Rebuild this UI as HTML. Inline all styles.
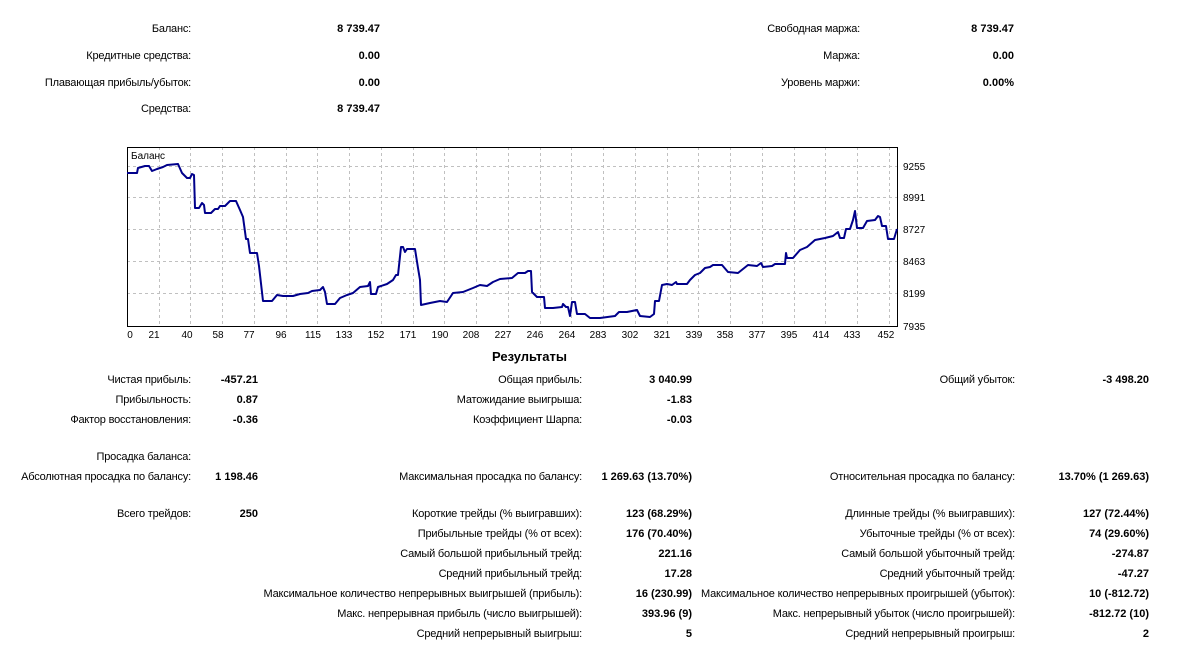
<!DOCTYPE html>
<html><head><meta charset="utf-8"><style>
body{margin:0;width:1194px;height:652px;background:#fff;position:relative;overflow:hidden;font-family:"Liberation Sans","DejaVu Sans",sans-serif;font-size:11px;color:#000}
.t{position:absolute;line-height:14px;white-space:nowrap;text-align:right;letter-spacing:-0.2px}
.b{font-weight:bold;letter-spacing:0}
svg{position:absolute;left:0;top:0}
</style></head><body>
<svg width="1194" height="652" xmlns="http://www.w3.org/2000/svg">
<g stroke="#c0c0c0" stroke-dasharray="3,3" stroke-width="1">
<line x1="127" y1="166.5" x2="897" y2="166.5"/><line x1="127" y1="197.5" x2="897" y2="197.5"/><line x1="127" y1="229.5" x2="897" y2="229.5"/><line x1="127" y1="261.5" x2="897" y2="261.5"/><line x1="127" y1="293.5" x2="897" y2="293.5"/>
<line x1="159.5" y1="147" x2="159.5" y2="326"/><line x1="190.5" y1="147" x2="190.5" y2="326"/><line x1="222.5" y1="147" x2="222.5" y2="326"/><line x1="254.5" y1="147" x2="254.5" y2="326"/><line x1="286.5" y1="147" x2="286.5" y2="326"/><line x1="317.5" y1="147" x2="317.5" y2="326"/><line x1="349.5" y1="147" x2="349.5" y2="326"/><line x1="381.5" y1="147" x2="381.5" y2="326"/><line x1="413.5" y1="147" x2="413.5" y2="326"/><line x1="444.5" y1="147" x2="444.5" y2="326"/><line x1="476.5" y1="147" x2="476.5" y2="326"/><line x1="508.5" y1="147" x2="508.5" y2="326"/><line x1="540.5" y1="147" x2="540.5" y2="326"/><line x1="571.5" y1="147" x2="571.5" y2="326"/><line x1="603.5" y1="147" x2="603.5" y2="326"/><line x1="635.5" y1="147" x2="635.5" y2="326"/><line x1="667.5" y1="147" x2="667.5" y2="326"/><line x1="698.5" y1="147" x2="698.5" y2="326"/><line x1="730.5" y1="147" x2="730.5" y2="326"/><line x1="762.5" y1="147" x2="762.5" y2="326"/><line x1="794.5" y1="147" x2="794.5" y2="326"/><line x1="825.5" y1="147" x2="825.5" y2="326"/><line x1="857.5" y1="147" x2="857.5" y2="326"/><line x1="889.5" y1="147" x2="889.5" y2="326"/>
</g>
<rect x="127.5" y="147.5" width="770" height="179" fill="none" stroke="#000" stroke-width="1"/>
<polyline fill="none" stroke="#00008b" stroke-width="2" stroke-linejoin="round" points="127,173 137,173 138,168 145,166 149,166 152,171 157,169 163,167 167,165 178,164 182,173 187,178 190,178 192,174 194,175 195,208 199,208 202,203 204,205 205,213 211,213 215,209 218,209 220,206 225,206 230,201 236,201 240,210 243,217 246,239 248,239 250,253 257,253 259,266 263,301 272,301 277,295 283,296 293,296 300,294 308,293 312,291 320,290 323,287 325,292 327,304 335,304 340,298 347,295 353,293 360,287 368,286 370,282 371,294 376,294 378,287 387,284 393,280 396,275 398,275 401,247 403,247 405,252 407,249 415,249 418,268 420,280 421,305 430,303 440,301 447,302 453,293 463,292 473,288 480,285 487,286 493,282 500,279 512,278 518,273 525,273 528,271 531,271 532,292 537,297 544,297 545,308 553,308 562,307 563,304 566,307 568,307 570,316 572,302 575,302 577,314 585,314 590,318 600,318 615,316 619,312 627,312 637,310 640,316 650,317 654,314 655,301 659,301 662,285 667,284 672,285 676,282 677,284 687,284 690,280 695,275 700,273 705,268 710,267 713,265 722,265 728,272 738,273 748,265 757,266 761,263 763,267 772,266 775,264 785,264 786,253 787,258 793,258 800,250 807,247 815,240 825,238 833,236 838,232 840,238 844,238 846,229 850,229 853,220 855,211 857,228 863,228 867,221 875,220 878,216 880,217 882,226 886,226 888,239 894,239 897,229"/>
<g font-family="Liberation Sans, sans-serif" font-size="10" fill="#000">
<text x="131" y="159">Баланс</text>
<text x="903" y="170">9255</text><text x="903" y="201">8991</text><text x="903" y="233">8727</text><text x="903" y="265">8463</text><text x="903" y="297">8199</text><text x="903" y="330">7935</text>
<g text-anchor="middle">
<text x="130" y="338">0</text><text x="154" y="338">21</text><text x="187" y="338">40</text><text x="218" y="338">58</text><text x="249" y="338">77</text><text x="281" y="338">96</text><text x="313" y="338">115</text><text x="344" y="338">133</text><text x="376" y="338">152</text><text x="408" y="338">171</text><text x="440" y="338">190</text><text x="471" y="338">208</text><text x="503" y="338">227</text><text x="535" y="338">246</text><text x="567" y="338">264</text><text x="598" y="338">283</text><text x="630" y="338">302</text><text x="662" y="338">321</text><text x="694" y="338">339</text><text x="725" y="338">358</text><text x="757" y="338">377</text><text x="789" y="338">395</text><text x="821" y="338">414</text><text x="852" y="338">433</text><text x="886" y="338">452</text>
</g></g>
</svg>

<div class="t" style="right:1003px;top:22px">Баланс:</div><div class="t b" style="right:814px;top:22px">8 739.47</div>
<div class="t" style="right:1003px;top:49px">Кредитные средства:</div><div class="t b" style="right:814px;top:49px">0.00</div>
<div class="t" style="right:1003px;top:76px">Плавающая прибыль/убыток:</div><div class="t b" style="right:814px;top:76px">0.00</div>
<div class="t" style="right:1003px;top:102px">Средства:</div><div class="t b" style="right:814px;top:102px">8 739.47</div>
<div class="t" style="right:334px;top:22px">Свободная маржа:</div><div class="t b" style="right:180px;top:22px">8 739.47</div>
<div class="t" style="right:334px;top:49px">Маржа:</div><div class="t b" style="right:180px;top:49px">0.00</div>
<div class="t" style="right:334px;top:76px">Уровень маржи:</div><div class="t b" style="right:180px;top:76px">0.00%</div>

<div class="t b" style="left:492px;top:350px;font-size:13px;text-align:left">Результаты</div>

<div class="t" style="right:1003px;top:373px">Чистая прибыль:</div><div class="t b" style="right:936px;top:373px">-457.21</div>
<div class="t" style="right:1003px;top:393px">Прибыльность:</div><div class="t b" style="right:936px;top:393px">0.87</div>
<div class="t" style="right:1003px;top:413px">Фактор восстановления:</div><div class="t b" style="right:936px;top:413px">-0.36</div>
<div class="t" style="right:1003px;top:450px">Просадка баланса:</div>
<div class="t" style="right:1003px;top:470px">Абсолютная просадка по балансу:</div><div class="t b" style="right:936px;top:470px">1 198.46</div>
<div class="t" style="right:1003px;top:507px">Всего трейдов:</div><div class="t b" style="right:936px;top:507px">250</div>

<div class="t" style="right:612px;top:373px">Общая прибыль:</div><div class="t b" style="right:502px;top:373px">3 040.99</div>
<div class="t" style="right:612px;top:393px">Матожидание выигрыша:</div><div class="t b" style="right:502px;top:393px">-1.83</div>
<div class="t" style="right:612px;top:413px">Коэффициент Шарпа:</div><div class="t b" style="right:502px;top:413px">-0.03</div>
<div class="t" style="right:612px;top:470px">Максимальная просадка по балансу:</div><div class="t b" style="right:502px;top:470px">1 269.63 (13.70%)</div>
<div class="t" style="right:612px;top:507px">Короткие трейды (% выигравших):</div><div class="t b" style="right:502px;top:507px">123 (68.29%)</div>
<div class="t" style="right:612px;top:527px">Прибыльные трейды (% от всех):</div><div class="t b" style="right:502px;top:527px">176 (70.40%)</div>
<div class="t" style="right:612px;top:547px">Самый большой прибыльный трейд:</div><div class="t b" style="right:502px;top:547px">221.16</div>
<div class="t" style="right:612px;top:567px">Средний прибыльный трейд:</div><div class="t b" style="right:502px;top:567px">17.28</div>
<div class="t" style="right:612px;top:587px">Максимальное количество непрерывных выигрышей (прибыль):</div><div class="t b" style="right:502px;top:587px">16 (230.99)</div>
<div class="t" style="right:612px;top:607px">Макс. непрерывная прибыль (число выигрышей):</div><div class="t b" style="right:502px;top:607px">393.96 (9)</div>
<div class="t" style="right:612px;top:627px">Средний непрерывный выигрыш:</div><div class="t b" style="right:502px;top:627px">5</div>

<div class="t" style="right:179px;top:373px">Общий убыток:</div><div class="t b" style="right:45px;top:373px">-3 498.20</div>
<div class="t" style="right:179px;top:470px">Относительная просадка по балансу:</div><div class="t b" style="right:45px;top:470px">13.70% (1 269.63)</div>
<div class="t" style="right:179px;top:507px">Длинные трейды (% выигравших):</div><div class="t b" style="right:45px;top:507px">127 (72.44%)</div>
<div class="t" style="right:179px;top:527px">Убыточные трейды (% от всех):</div><div class="t b" style="right:45px;top:527px">74 (29.60%)</div>
<div class="t" style="right:179px;top:547px">Самый большой убыточный трейд:</div><div class="t b" style="right:45px;top:547px">-274.87</div>
<div class="t" style="right:179px;top:567px">Средний убыточный трейд:</div><div class="t b" style="right:45px;top:567px">-47.27</div>
<div class="t" style="right:179px;top:587px">Максимальное количество непрерывных проигрышей (убыток):</div><div class="t b" style="right:45px;top:587px">10 (-812.72)</div>
<div class="t" style="right:179px;top:607px">Макс. непрерывный убыток (число проигрышей):</div><div class="t b" style="right:45px;top:607px">-812.72 (10)</div>
<div class="t" style="right:179px;top:627px">Средний непрерывный проигрыш:</div><div class="t b" style="right:45px;top:627px">2</div>
</body></html>
